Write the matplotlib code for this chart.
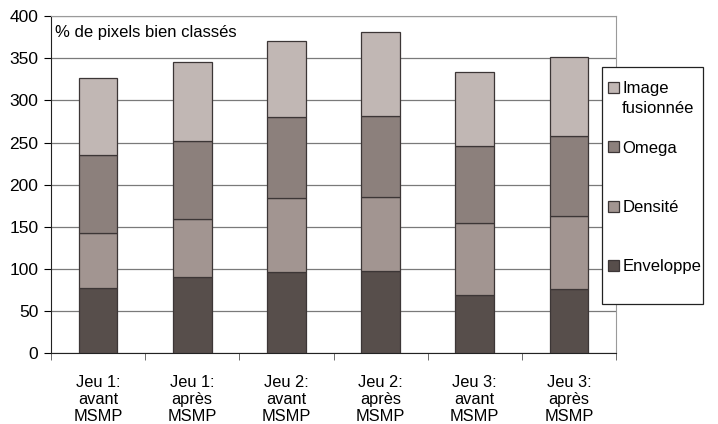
import numpy as np
import matplotlib.pyplot as plt
from matplotlib.patches import Rectangle

plt.rcParams["font.family"] = ["Liberation Sans", "DejaVu Sans"]
plt.rcParams["font.size"] = 11

# ── Data ─────────────────────────────────────────────────────
categories = ["Jeu 1:\navant\nMSMP", "Jeu 1:\naprès\nMSMP",
              "Jeu 2:\navant\nMSMP", "Jeu 2:\naprès\nMSMP",
              "Jeu 3:\navant\nMSMP", "Jeu 3:\naprès\nMSMP"]
enveloppe = [77, 90, 96, 98, 69, 76]
densite   = [66, 69, 88, 87, 86, 87]
omega     = [92, 93, 96, 97, 91, 95]
image_fus = [91, 94, 90, 99, 88, 93]

series = [("Enveloppe", enveloppe, "#574e4b"),
          ("Densité", densite, "#a29591"),
          ("Omega", omega, "#8c807c"),
          ("Image fusionnée", image_fus, "#c1b7b4")]

# ── Figure ───────────────────────────────────────────────────
fig = plt.figure(figsize=(7.18, 4.24), dpi=100)
ax = fig.add_axes([0.071, 0.167, 0.787, 0.795])

x = np.arange(len(categories))
bottom = np.zeros(len(categories))
handles = []
for name, vals, color in series:
    b = ax.bar(x, vals, 0.41, bottom=bottom, color=color,
               edgecolor="#3c3636", linewidth=0.9, label=name, zorder=3)
    handles.append(b)
    bottom += np.array(vals)

ax.set_xlim(-0.5, len(categories) - 0.5)
ax.set_ylim(0, 400)
ax.set_yticks(np.arange(0, 401, 50))
ax.yaxis.grid(True, color="#7a7a7a", linewidth=0.9, zorder=0)
ax.set_axisbelow(True)

ax.set_xticks(x)
ax.set_xticklabels(categories, linespacing=1.15)
ax.set_xticks(np.arange(-0.5, len(categories), 1), minor=True)
ax.tick_params(axis="x", which="major", length=0, pad=16, labelsize=11.8)
ax.tick_params(axis="x", which="minor", length=5, direction="out", color="#555555")
ax.tick_params(axis="y", length=5, direction="out", pad=4, labelsize=12.5)

for side in ["left", "bottom"]:
    ax.spines[side].set_color("#222222")
for side in ["top", "right"]:
    ax.spines[side].set_color("#9a9a9a")

ax.text(0.008, 0.975, "% de pixels bien classés", transform=ax.transAxes,
        ha="left", va="top", fontsize=12)

# legend box drawn separately so its padding can be uneven
fig.patches.append(Rectangle((0.8384, 0.283), 0.1406, 0.559,
                             transform=fig.transFigure, facecolor="white",
                             edgecolor="#222222", linewidth=0.9, zorder=4))

# first word only in the legend; the wrapped second word goes underneath
leg_labels = [s[0].split(" ")[0] for s in series][::-1]
leg = fig.legend(handles[::-1], leg_labels,
                 loc="upper left", bbox_to_anchor=(0.842, 0.816),
                 frameon=False,
                 handlelength=0.66, handleheight=0.66, handletextpad=0.2,
                 labelspacing=2.66, borderpad=0.2, borderaxespad=0,
                 fontsize=12)
leg.set_zorder(5)

fig.canvas.draw()
first = leg.get_texts()[0].get_window_extent()
fx, fy = fig.transFigure.inverted().transform((first.x0, first.y0))
fig.text(fx, fy - 0.012, series[-1][0].split(" ")[1], ha="left", va="top",
         fontsize=12, zorder=6)

plt.savefig("out.png", dpi=100, facecolor="white")
